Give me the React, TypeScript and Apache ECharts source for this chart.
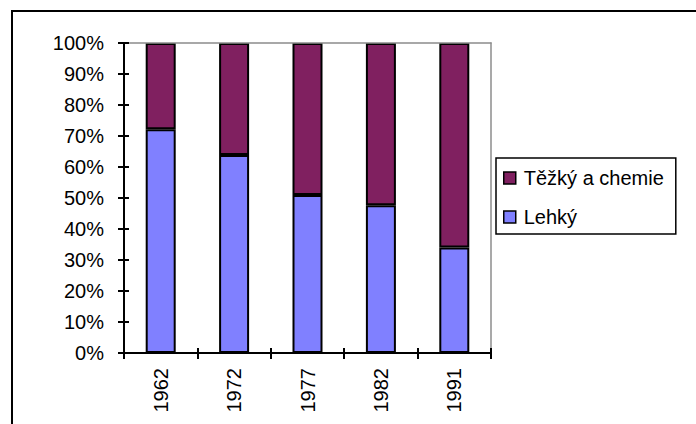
import React, { useEffect, useRef } from "react";
import * as echarts from "echarts";

const categories = ["1962", "1972", "1977", "1982", "1991"];
const lehky = [72.2, 63.9, 51.0, 47.7, 34.0];
const tezky = [27.8, 36.1, 49.0, 52.3, 66.0];
const seriesNames = ["Těžký a chemie", "Lehký"];

const FONT = "'Liberation Sans', Arial, sans-serif";

export default function App() {
  const ref = useRef<HTMLDivElement>(null);
  useEffect(() => {
    if (!ref.current) return;
    const chart = echarts.init(ref.current, undefined, { renderer: "svg" });
    const black = { color: "#000", width: 2, opacity: 1 };
    const gray = { color: "#8c8c8c", width: 1.5 };
    const plainX = (extra: any) => ({
      type: "category",
      data: categories,
      splitLine: { show: false },
      axisLabel: { show: false },
      ...extra,
    });
    const plainY = (extra: any) => ({
      type: "value",
      min: 0,
      max: 100,
      interval: 10,
      splitLine: { show: false },
      axisLabel: { show: false },
      ...extra,
    });
    chart.setOption({
      animation: false,
      backgroundColor: "#fff",
      textStyle: { fontFamily: FONT },
      grid: { left: 124, right: 205, top: 43, bottom: 71 },
      legend: {
        data: seriesNames,
        orient: "vertical",
        left: 496,
        top: 158,
        icon: "rect",
        itemWidth: 12,
        itemHeight: 12,
        itemGap: 19,
        padding: [10, 12, 7, 7],
        borderColor: "#000",
        borderWidth: 1.5,
        itemStyle: { borderColor: "#000", borderWidth: 1.5 },
        textStyle: { fontSize: 20, color: "#000", fontFamily: FONT, padding: [0, 0, 0, 3] },
      },
      xAxis: [
        plainX({
          position: "bottom",
          z: 10,
          axisLine: { show: true, onZero: false, lineStyle: black },
          axisTick: { show: true, length: 6, lineStyle: black },
          axisLabel: { show: true, rotate: 90, margin: 15, fontSize: 20, color: "#000", fontFamily: FONT },
        }),
        plainX({
          position: "bottom",
          offset: 0,
          z: 10,
          axisLine: { show: true, onZero: false, lineStyle: black },
          axisTick: { show: true, inside: true, length: 5, lineStyle: black },
        }),
        plainX({
          position: "top",
          offset: 0,
          z: 5,
          axisLine: { show: true, onZero: false, lineStyle: gray },
          axisTick: { show: false },
        }),
      ],
      yAxis: [
        plainY({
          position: "left",
          z: 10,
          axisLine: { show: true, onZero: false, lineStyle: black },
          axisTick: { show: true, length: 6, lineStyle: black },
          axisLabel: { show: true, formatter: "{value}%", margin: 20, fontSize: 20, color: "#000", fontFamily: FONT },
        }),
        plainY({
          position: "left",
          offset: 0,
          z: 10,
          axisLine: { show: true, onZero: false, lineStyle: black },
          axisTick: { show: true, inside: true, length: 5, lineStyle: black },
        }),
        plainY({
          position: "right",
          offset: 0,
          z: 5,
          axisLine: { show: true, onZero: false, lineStyle: gray },
          axisTick: { show: false },
        }),
      ],
      series: [
        {
          name: seriesNames[1],
          type: "bar",
          stack: "total",
          data: lehky,
          barWidth: 30,
          itemStyle: { color: "#8080FF", borderColor: "#000", borderWidth: 2 },
        },
        {
          name: seriesNames[0],
          type: "bar",
          stack: "total",
          data: tezky,
          barWidth: 30,
          itemStyle: { color: "#802060", borderColor: "#000", borderWidth: 2 },
        },
      ],
      graphic: [
        {
          type: "rect",
          shape: { x: 12, y: 11, width: 720, height: 460 },
          style: { fill: "none", stroke: "#000", lineWidth: 2 },
          silent: true,
          z: 100,
        },
      ],
    });
    return () => chart.dispose();
  }, []);
  return (
    <div
      ref={ref}
      style={{ position: "absolute", left: 0, top: 0, width: 696, height: 424 }}
    />
  );
}
